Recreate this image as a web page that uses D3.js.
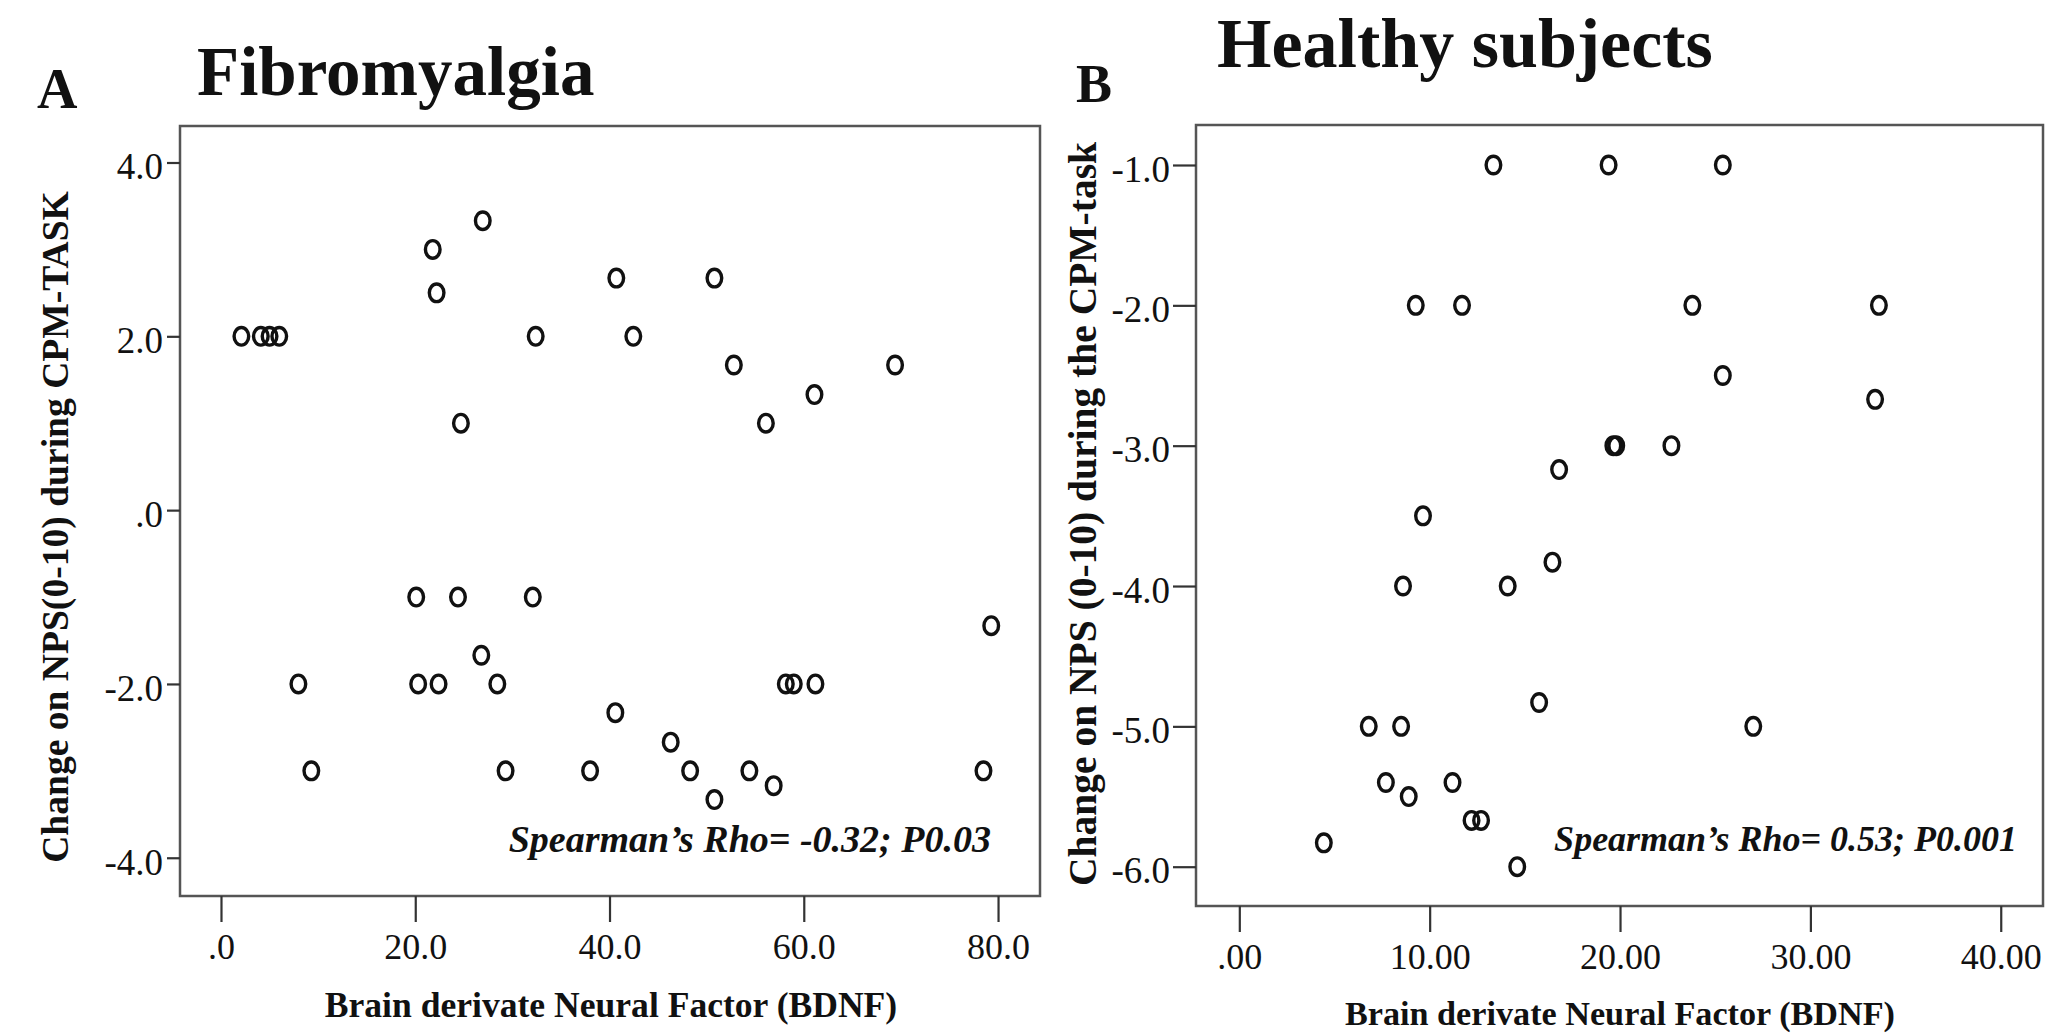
<!DOCTYPE html>
<html>
<head>
<meta charset="utf-8">
<script src="https://cdn.jsdelivr.net/npm/d3@7"></script>
<style>
  html, body { margin: 0; padding: 0; background: #fff; }
  svg { display: block; }
  text { font-family: "Liberation Serif", "Times New Roman", serif; fill: #111; }
</style>
</head>
<body>
<svg id="chart" width="2070" height="1035"></svg>
<script>
// ---------- DATA ----------
// Panel A: Fibromyalgia
const fibroBDNF = [2.1, 4.1, 5.0, 6.0, 21.8, 22.2, 26.95, 24.7, 32.4, 40.7, 42.45, 50.8, 52.8, 56.1, 61.1, 69.4,
  20.1, 24.4, 32.1, 79.3, 26.8, 7.97, 20.3, 22.4, 28.45, 58.15, 58.97, 61.2, 40.6, 46.3,
  9.3, 29.3, 38.0, 48.3, 54.4, 56.9, 50.8, 78.5];
const fibroNPS = [2, 2, 2, 2, 3.0, 2.5, 3.33, 1.0, 2.0, 2.67, 2.0, 2.67, 1.67, 1.0, 1.33, 1.67,
  -1, -1, -1, -1.33, -1.67, -2, -2, -2, -2, -2, -2, -2, -2.33, -2.67,
  -3, -3, -3, -3, -3, -3.17, -3.33, -3];

// Panel B: Healthy subjects
const healthyBDNF = [13.35, 19.4, 25.4, 9.27, 11.7, 23.8, 33.6, 25.4, 33.4, 19.65, 19.8, 22.7, 16.8, 9.65,
  16.45, 8.6, 14.1, 15.75, 6.8, 8.5, 27.0, 7.7, 11.2, 8.9, 12.2, 12.7, 4.44, 14.6];
const healthyNPS = [-1, -1, -1, -2, -2, -2, -2, -2.5, -2.67, -3, -3, -3, -3.17, -3.5,
  -3.83, -4, -4, -4.83, -5, -5, -5, -5.4, -5.4, -5.5, -5.67, -5.67, -5.83, -6];

// Tick values and labels
const fibroXTicks = [0, 20, 40, 60, 80];
const fibroXLabels = [".0", "20.0", "40.0", "60.0", "80.0"];
const fibroYTicks = [4, 2, 0, -2, -4];
const fibroYLabels = ["4.0", "2.0", ".0", "-2.0", "-4.0"];
const healthyXTicks = [0, 10, 20, 30, 40];
const healthyXLabels = [".00", "10.00", "20.00", "30.00", "40.00"];
const healthyYTicks = [-1, -2, -3, -4, -5, -6];
const healthyYLabels = ["-1.0", "-2.0", "-3.0", "-4.0", "-5.0", "-6.0"];

// Texts
const panels = [
  {
    letter: "A", title: "Fibromyalgia",
    xLabel: "Brain derivate Neural Factor (BDNF)",
    yLabel: "Change on NPS(0-10) during CPM-TASK",
    note: "Spearman\u2019s Rho= -0.32; P0.03",
    xs: fibroBDNF, ys: fibroNPS,
    xTicks: fibroXTicks, xLabels: fibroXLabels, yTicks: fibroYTicks, yLabels: fibroYLabels,
    xDomain: [-4.22, 84.32], yDomain: [-4.44, 4.42],
    // layout
    frame: { x0: 180, x1: 1040, y0: 126, y1: 896 },
    yTickSize: 13, yLabelGap: 17,
    letterPos: [37, 108, 56], titlePos: [197, 95, 69],
    yLabelPos: [68, 527, 37.6], xLabelPos: [611, 1017, 35.6], notePos: [991, 852, 38]
  },
  {
    letter: "B", title: "Healthy subjects",
    xLabel: "Brain derivate Neural Factor (BDNF)",
    yLabel: "Change on NPS (0-10) during the CPM-task",
    note: "Spearman\u2019s Rho= 0.53; P0.001",
    xs: healthyBDNF, ys: healthyNPS,
    xTicks: healthyXTicks, xLabels: healthyXLabels, yTicks: healthyYTicks, yLabels: healthyYLabels,
    xDomain: [-2.275, 42.22], yDomain: [-6.28, -0.715],
    frame: { x0: 1196, x1: 2043, y0: 125, y1: 906 },
    yTickSize: 23, yLabelGap: 26,
    letterPos: [1076, 102, 54], titlePos: [1217, 67, 70],
    yLabelPos: [1096, 514, 39.5], xLabelPos: [1620, 1025, 34.2], notePos: [2017, 851, 36]
  }
];

const svg = d3.select("#chart");

panels.forEach(p => {
  const f = p.frame;
  const x = d3.scaleLinear().domain(p.xDomain).range([f.x0, f.x1]);
  const y = d3.scaleLinear().domain(p.yDomain).range([f.y1, f.y0]);
  const g = svg.append("g");

  // Panel letter and title
  g.append("text").attr("x", p.letterPos[0]).attr("y", p.letterPos[1])
    .style("font-size", p.letterPos[2] + "px").style("font-weight", "bold").text(p.letter);
  g.append("text").attr("x", p.titlePos[0]).attr("y", p.titlePos[1])
    .style("font-size", p.titlePos[2] + "px").style("font-weight", "bold").text(p.title);

  // Frame
  g.append("rect").attr("x", f.x0).attr("y", f.y0)
    .attr("width", f.x1 - f.x0).attr("height", f.y1 - f.y0)
    .attr("fill", "none").attr("stroke", "#555").attr("stroke-width", 2.5);

  // X axis
  const xAxis = d3.axisBottom(x).tickValues(p.xTicks)
    .tickFormat((d, i) => p.xLabels[i]).tickSize(26).tickSizeOuter(0);
  const xg = g.append("g").attr("transform", `translate(0,${f.y1})`).call(xAxis);
  xg.select(".domain").remove();
  xg.selectAll(".tick line").attr("stroke", "#333").attr("stroke-width", 2.2);
  xg.selectAll(".tick text").attr("y", 63).attr("dy", null)
    .style("font-size", "36px").style("font-family", "'Liberation Serif', serif").attr("fill", "#222");

  // Y axis
  const yAxis = d3.axisLeft(y).tickValues(p.yTicks)
    .tickFormat((d, i) => p.yLabels[i]).tickSize(p.yTickSize).tickSizeOuter(0);
  const yg = g.append("g").attr("transform", `translate(${f.x0},0)`).call(yAxis);
  yg.select(".domain").remove();
  yg.selectAll(".tick line").attr("stroke", "#333").attr("stroke-width", 2.2);
  yg.selectAll(".tick text").attr("x", -p.yLabelGap).attr("dy", "0.44em")
    .style("font-size", "37px").style("font-family", "'Liberation Serif', serif").attr("fill", "#222");

  // Axis titles
  g.append("text")
    .attr("transform", `translate(${p.yLabelPos[0]},${p.yLabelPos[1]}) rotate(-90)`)
    .attr("text-anchor", "middle").style("font-size", p.yLabelPos[2] + "px")
    .style("font-weight", "bold").text(p.yLabel);
  g.append("text").attr("x", p.xLabelPos[0]).attr("y", p.xLabelPos[1])
    .attr("text-anchor", "middle").style("font-size", p.xLabelPos[2] + "px")
    .style("font-weight", "bold").text(p.xLabel);

  // Points
  const pts = p.xs.map((v, i) => [v, p.ys[i]]);
  g.append("g").selectAll("ellipse").data(pts).join("ellipse")
    .attr("cx", d => x(d[0])).attr("cy", d => y(d[1]))
    .attr("rx", 7.3).attr("ry", 8.8)
    .attr("fill", "none").attr("stroke", "#111").attr("stroke-width", 3.4);

  // Annotation
  g.append("text").attr("x", p.notePos[0]).attr("y", p.notePos[1])
    .attr("text-anchor", "end").style("font-size", p.notePos[2] + "px")
    .style("font-weight", "bold").style("font-style", "italic").text(p.note);
});
</script>
</body>
</html>
